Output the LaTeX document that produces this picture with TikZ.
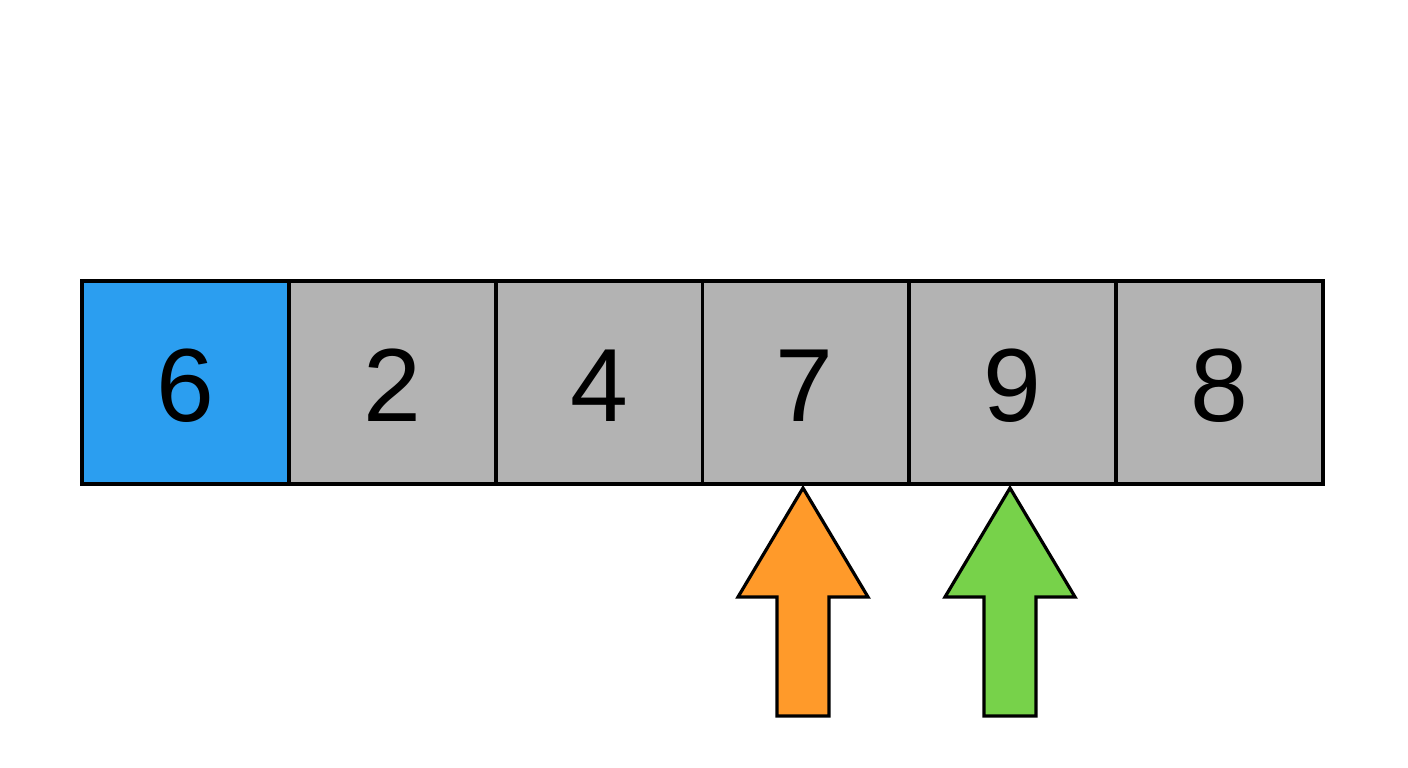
\documentclass[tikz,border=0pt]{standalone}
\usepackage{fontspec}
\setmainfont{Liberation Sans}
\definecolor{cellblue}{HTML}{2B9EF0}
\definecolor{cellgray}{HTML}{B3B3B3}
\definecolor{arrorange}{HTML}{FF9A2A}
\definecolor{arrgreen}{HTML}{77D24A}
\begin{document}
\begin{tikzpicture}[x=1pt,y=-1pt,
  cell/.style={draw=black,line width=3.2pt,minimum width=207pt,minimum height=203pt,inner sep=0pt,fill=cellgray},
  digit/.style={anchor=base,font=\fontsize{104}{104}\selectfont,inner sep=0pt},
  uparrow/.style={draw=black,line width=3.2pt,line join=miter}]
\useasboundingbox (0,0) rectangle (1408,768);
\node[cell,fill=cellblue] (c1) at (185.5,382.5) {};
\node[cell] (c2) at (392.5,382.5) {};
\node[cell] (c3) at (599.5,382.5) {};
\node[cell] (c4) at (806,382.5) {};
\node[cell] (c5) at (1012.5,382.5) {};
\node[cell] (c6) at (1219.5,382.5) {};
\node[digit] (t1) at (185.5,421) {6};
\node[digit] (t2) at (392.5,421) {2};
\node[digit] (t3) at (599.5,421) {4};
\node[digit] (t4) at (804,421) {7};
\node[digit] (t5) at (1012,421) {9};
\node[digit] (t6) at (1219.5,421) {8};
\coordinate (a1) at (803,488);
\coordinate (a2) at (1010,488);
\draw[uparrow,fill=arrorange] (a1) -- ++(65,109) -- ++(-39,0) -- ++(0,119) -- ++(-52,0) -- ++(0,-119) -- ++(-39,0) -- cycle;
\draw[uparrow,fill=arrgreen] (a2) -- ++(65,109) -- ++(-39,0) -- ++(0,119) -- ++(-52,0) -- ++(0,-119) -- ++(-39,0) -- cycle;
\end{tikzpicture}
\end{document}
